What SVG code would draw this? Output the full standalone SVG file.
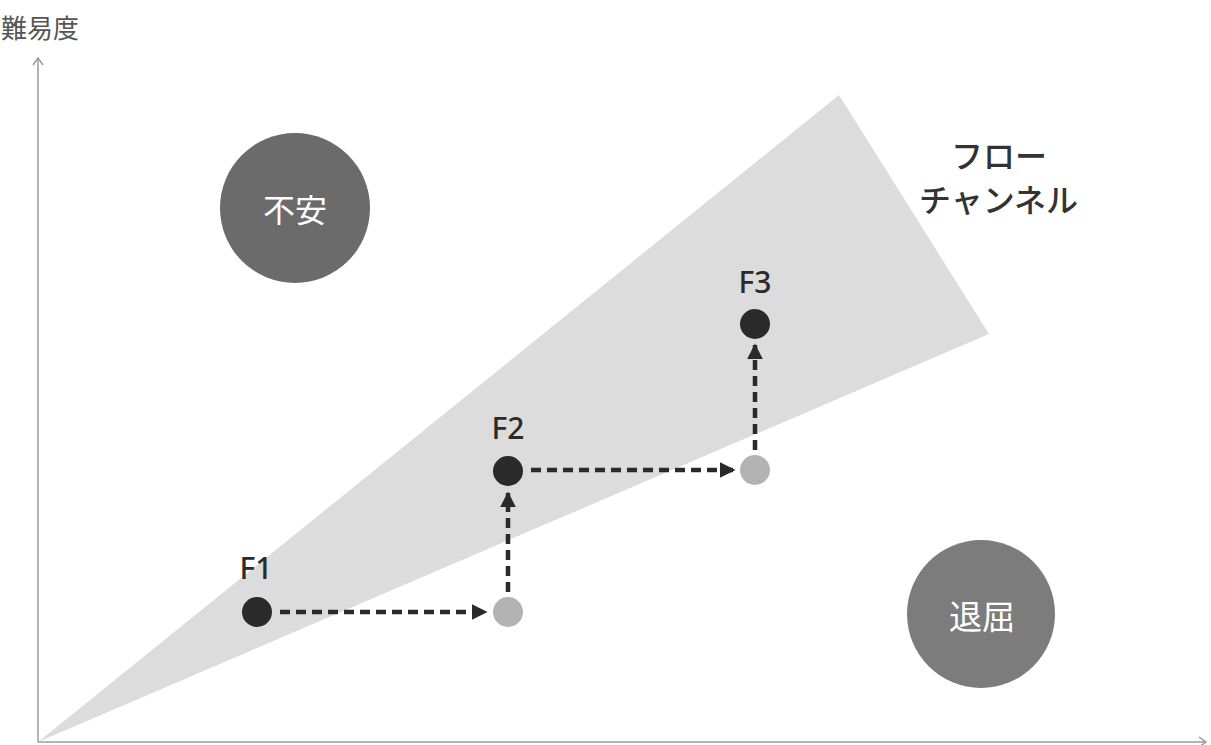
<svg xmlns="http://www.w3.org/2000/svg" width="1211" height="745" viewBox="0 0 1211 745">
<defs>
<style>
.ax{stroke:#9a9a9a;stroke-width:1.5;fill:none}
.dash{stroke:#2a2a2a;stroke-width:4.5;stroke-dasharray:10 6;fill:none}
.dark{fill:#2a2a2a}
.light{fill:#b3b3b3}
.lbl{font-family:"Noto Sans","Liberation Sans",sans-serif;font-size:30px;font-weight:500;fill:#2a2a2a}
.jp{font-family:"Noto Sans CJK JP",sans-serif}
</style>
<marker id="ah" viewBox="0 0 10 10" refX="9" refY="5" markerWidth="3.5" markerHeight="3.5" orient="auto" markerUnits="strokeWidth">
<path d="M0,0 L10,5 L0,10 Z" fill="#2a2a2a"/>
</marker>
</defs>
<rect width="1211" height="745" fill="#ffffff"/>
<g id="channel"><polygon points="38,742 839,95 989,334" fill="#dcdcdc"/></g>
<g id="axes">
<line class="ax" x1="38" y1="742" x2="38" y2="58"/>
<polyline class="ax" points="33,65 38,58 43,65"/>
<line class="ax" x1="38" y1="742" x2="1206" y2="742"/>
<polyline class="ax" points="1199,737 1206,742 1199,747"/>
<text x="1" y="38" class="jp" font-size="26" fill="#555">難易度</text>
</g>
<g id="anxiety"><circle cx="295" cy="208" r="75" fill="#6b6b6b"/><text x="295" y="222" class="jp" font-size="32" fill="#fff" text-anchor="middle">不安</text></g>
<g id="boredom"><circle cx="981" cy="614" r="74" fill="#7c7c7c"/><text x="982" y="629" class="jp" font-size="33" fill="#fff" text-anchor="middle">退屈</text></g>
<g id="flowlabel"><text class="jp" font-size="32" font-weight="500" fill="#333"><tspan x="951" y="168">フロー</tspan><tspan x="919" y="212">チャンネル</tspan></text></g>
<g id="connectors">
<line class="dash" x1="280" y1="612" x2="486" y2="612" marker-end="url(#ah)"/>
<line class="dash" x1="508" y1="592" x2="508" y2="493" marker-end="url(#ah)"/>
<line class="dash" x1="531" y1="470" x2="734" y2="470" marker-end="url(#ah)"/>
<line class="dash" x1="755" y1="450" x2="755" y2="345" marker-end="url(#ah)"/>
</g>
<g id="F1"><circle class="dark" cx="257" cy="612" r="15"/><text class="lbl" x="256" y="579" text-anchor="middle">F1</text></g>
<g id="p1"><circle class="light" cx="508" cy="612" r="15"/></g>
<g id="F2"><circle class="dark" cx="508" cy="471" r="15"/><text class="lbl" x="508" y="439" text-anchor="middle">F2</text></g>
<g id="p2"><circle class="light" cx="755" cy="470" r="15"/></g>
<g id="F3"><circle class="dark" cx="755" cy="324" r="15"/><text class="lbl" x="755" y="293" text-anchor="middle">F3</text></g>
</svg>
